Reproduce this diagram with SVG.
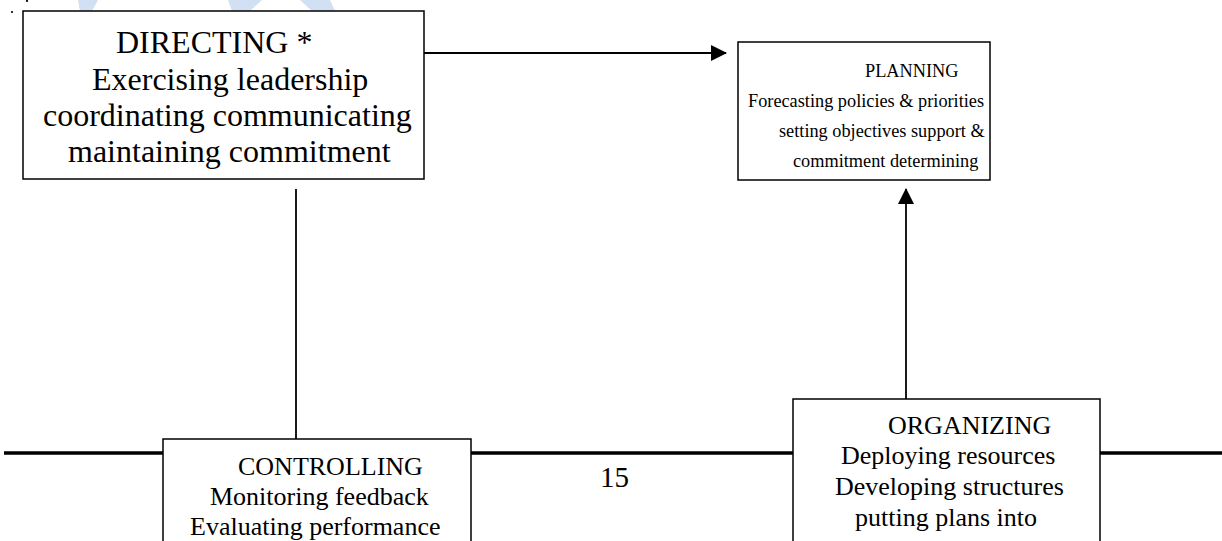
<svg xmlns="http://www.w3.org/2000/svg" width="1222" height="541" viewBox="0 0 1222 541">
<style>
  .box { fill: #ffffff; stroke: #000000; stroke-width: 1.5; }
  text { font-family: "Liberation Serif", "Times New Roman", "DejaVu Serif", serif; fill: #000; }
  .t32 { font-size: 32px; }
  .t26 { font-size: 26px; }
  .t19 { font-size: 18.3px; }
  .conn { stroke: #000; stroke-width: 1.8; fill: none; }
  .rule { stroke: #000; stroke-width: 3.5; fill: none; }
</style>
<defs>
  <marker id="arrow" viewBox="0 0 16 16" refX="15" refY="8" markerWidth="16" markerHeight="16" markerUnits="userSpaceOnUse" orient="auto">
    <path d="M0,0 L16,8 L0,16 Z" fill="#000"/>
  </marker>
</defs>
<rect width="1222" height="541" fill="#ffffff"/>
<g id="watermark" fill="#c6d9f1" opacity="0.8">
  <polygon points="78,0 98,0 92,11 80,11"/>
  <polygon points="228,0 262,0 250,11 232,11"/>
  <polygon points="300,0 330,0 335,11 312,11"/>
</g>
<g id="marks" fill="#000">
  <circle cx="12" cy="12" r="1.1"/>
  <circle cx="27" cy="1" r="1.1"/>
</g>
<g id="footer-rule">
  <line class="rule" x1="4" y1="453" x2="163" y2="453"/>
  <line class="rule" x1="471" y1="453" x2="793" y2="453"/>
  <line class="rule" x1="1100" y1="453" x2="1222" y2="453"/>
  <text x="600" y="487" style="font-size:29px">15</text>
</g>
<g id="connectors">
  <line class="conn" x1="424" y1="53" x2="726" y2="53" marker-end="url(#arrow)"/>
  <line class="conn" x1="296" y1="189" x2="296" y2="439"/>
  <line class="conn" x1="906" y1="399" x2="906" y2="189" marker-end="url(#arrow)"/>
</g>
<g id="directing">
  <rect class="box" x="23" y="11" width="401" height="168"/>
  <text class="t32" x="116" y="53">DIRECTING *</text>
  <text class="t32" x="92" y="89.5">Exercising leadership</text>
  <text class="t32" x="43" y="126">coordinating communicating</text>
  <text class="t32" x="68" y="162">maintaining commitment</text>
</g>
<g id="planning">
  <rect class="box" x="738" y="42" width="252" height="138"/>
  <text class="t19" x="865" y="77">PLANNING</text>
  <text class="t19" x="748" y="107">Forecasting policies &amp; priorities</text>
  <text class="t19" x="779" y="137">setting objectives support &amp;</text>
  <text class="t19" x="793" y="167">commitment determining</text>
</g>
<g id="controlling">
  <rect class="box" x="163" y="439" width="308" height="110"/>
  <text class="t26" x="238" y="475">CONTROLLING</text>
  <text class="t26" x="210" y="505">Monitoring feedback</text>
  <text class="t26" x="190" y="535">Evaluating performance</text>
</g>
<g id="organizing">
  <rect class="box" x="793" y="399" width="307" height="150"/>
  <text class="t26" x="888" y="434">ORGANIZING</text>
  <text class="t26" x="841" y="464">Deploying resources</text>
  <text class="t26" x="835" y="495">Developing structures</text>
  <text class="t26" x="855" y="526">putting plans into</text>
</g>
</svg>
